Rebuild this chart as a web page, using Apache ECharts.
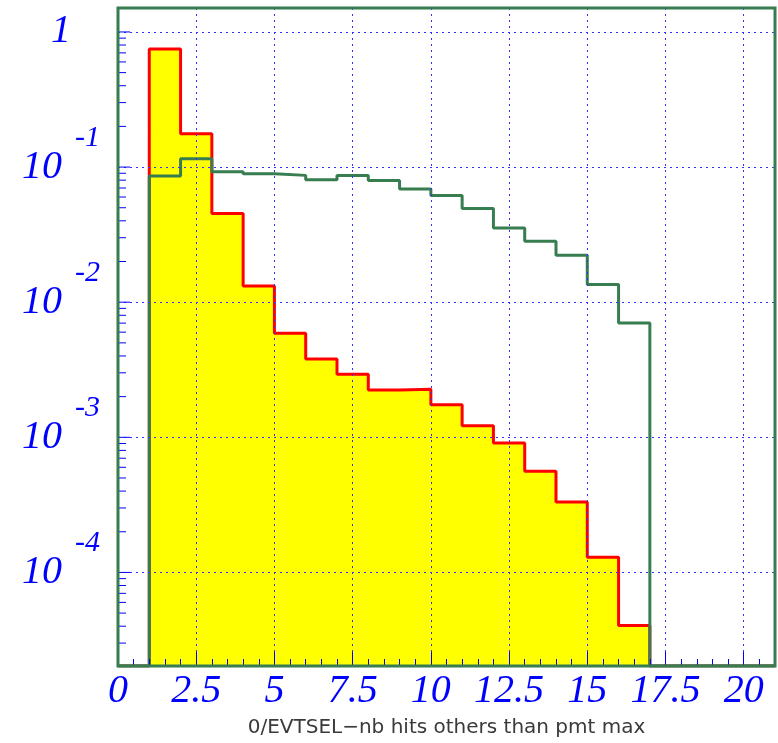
<!DOCTYPE html>
<html>
<head>
<meta charset="utf-8">
<script src="https://cdn.jsdelivr.net/npm/echarts@6/dist/echarts.min.js"></script>
<style>
  html, body { margin: 0; padding: 0; background: #ffffff; }
  #chart { width: 778px; height: 743px; }
</style>
</head>
<body>
<div id="chart"></div>
<script>
// ---- data ----
const binEdgeStart = 1;          // first filled bin starts at x = 1
const binWidth = 1;
const redValues = [0.749, 0.1765, 0.0453, 0.01315, 0.00589, 0.0038, 0.00293, 0.002244,
                   0.00227, 0.00174, 0.001216, 0.000906, 0.00056, 0.000332, 0.0001294, 0.0000405];
const greenValues = [0.0858, 0.1153, 0.0925, 0.0894, 0.0868, 0.0807, 0.0868, 0.0794,
                     0.0688, 0.0615, 0.0493, 0.0354, 0.0283, 0.0223, 0.01353, 0.00701];
const xMin = 0, xMax = 21, xInterval = 2.5, xMinorInterval = 0.5;
const yMin = 2.03e-5, yMax = 1.504;
const yMajorTicks = [1e-4, 1e-3, 1e-2, 1e-1, 1];
const yMinorMantissas = [2, 3, 4, 5, 6, 7, 8, 9];
const yMinorDecades = [1e-5, 1e-4, 1e-3, 1e-2, 1e-1];
const xTitle = '0/EVTSEL\u2212nb hits others than pmt max';

// ---- build histogram step data ----
function histData(values) {
  const pts = [];
  for (let x = xMin; x < xMax; x += binWidth) {
    const i = Math.round((x - binEdgeStart) / binWidth);
    const v = (i >= 0 && i < values.length) ? values[i] : yMin;
    pts.push([x, v]);
  }
  pts.push([xMax, pts[pts.length - 1][1]]);
  return pts;
}
const yMinorTicks = [];
yMinorDecades.forEach(d => yMinorMantissas.forEach(m => {
  const v = m * d;
  if (v > yMin && v < yMax) yMinorTicks.push(v);
}));
const yTickData = yMajorTicks.map(v => [xMin, v, 1]).concat(yMinorTicks.map(v => [xMin, v, 0]));

const BLUE = '#0000ff';
const GREEN = '#377d4f';
const labelFont = { fontFamily: 'Liberation Serif', fontStyle: 'italic', color: BLUE };

const chart = echarts.init(document.getElementById('chart'), null, { renderer: 'canvas' });
chart.setOption({
  animation: false,
  backgroundColor: '#ffffff',
  grid: {
    left: 118, top: 8, width: 658, height: 660,
    show: true, z: 10, backgroundColor: 'transparent',
    borderColor: GREEN, borderWidth: 3
  },
  xAxis: [{
    type: 'value', min: xMin, max: xMax, interval: xInterval, z: 5,
    name: xTitle, nameLocation: 'middle', nameGap: 52,
    nameTextStyle: { fontFamily: 'DejaVu Sans', fontSize: 20, color: '#3a3a3a' },
    axisLine: { show: false },
    axisTick: { show: true, inside: true, length: 14, lineStyle: { color: BLUE, width: 1 } },
    axisLabel: {
      show: true, margin: 5, interval: 0, fontSize: 40, ...labelFont,
      formatter: v => (v > 20.001 ? '' : String(v))
    },
    splitLine: { show: true, showMinLine: false, showMaxLine: false,
      lineStyle: { color: '#3030ff', width: 1, type: [2, 4] } }
  }, {
    type: 'value', min: xMin, max: xMax, interval: xMinorInterval, position: 'bottom', z: 5,
    axisLine: { show: false },
    axisTick: { show: true, inside: true, length: 7, lineStyle: { color: BLUE, width: 1 } },
    axisLabel: { show: false },
    splitLine: { show: false }
  }],
  yAxis: [{
    type: 'log', logBase: 10, min: yMin, max: yMax, z: 5,
    axisLine: { show: false },
    axisTick: { show: false },
    axisLabel: {
      show: true, margin: 18, ...labelFont, fontSize: 40,
      formatter: function (v) {
        const l = Math.log10(v);
        const n = Math.round(l);
        if (Math.abs(l - n) > 1e-6) return '';
        if (n === 0) return '{one|1}';
        return '{b|10}{e|' + n + '}';
      },
      rich: {
        one: { ...labelFont, fontSize: 40, padding: [0, 29, 0, 0] },
        b: { ...labelFont, fontSize: 40 },
        e: { ...labelFont, fontSize: 30, padding: [0, 0, 58, 13] }
      }
    },
    splitLine: { show: true, showMinLine: false, showMaxLine: false,
      lineStyle: { color: '#3030ff', width: 1, type: [2, 4] } }
  }],
  series: [{
    name: 'red', type: 'line', step: 'end', data: histData(redValues),
    showSymbol: false, symbol: 'none', z: 2,
    lineStyle: { color: '#ff0000', width: 3 },
    areaStyle: { color: '#ffff00', opacity: 1, origin: 'start' }
  }, {
    name: 'green', type: 'line', step: 'end', data: histData(greenValues),
    showSymbol: false, symbol: 'none', z: 3,
    lineStyle: { color: GREEN, width: 3 }
  }, {
    name: 'yticks', type: 'custom', z: 6, silent: true,
    data: yTickData,
    encode: { x: 0, y: 1 },
    renderItem: function (params, api) {
      const p = api.coord([api.value(0), api.value(1)]);
      const len = api.value(2) ? 12 : 8;
      return {
        type: 'line',
        shape: { x1: p[0], y1: p[1], x2: p[0] + len, y2: p[1] },
        style: { stroke: BLUE, lineWidth: 1 }
      };
    }
  }]
});
</script>
</body>
</html>
